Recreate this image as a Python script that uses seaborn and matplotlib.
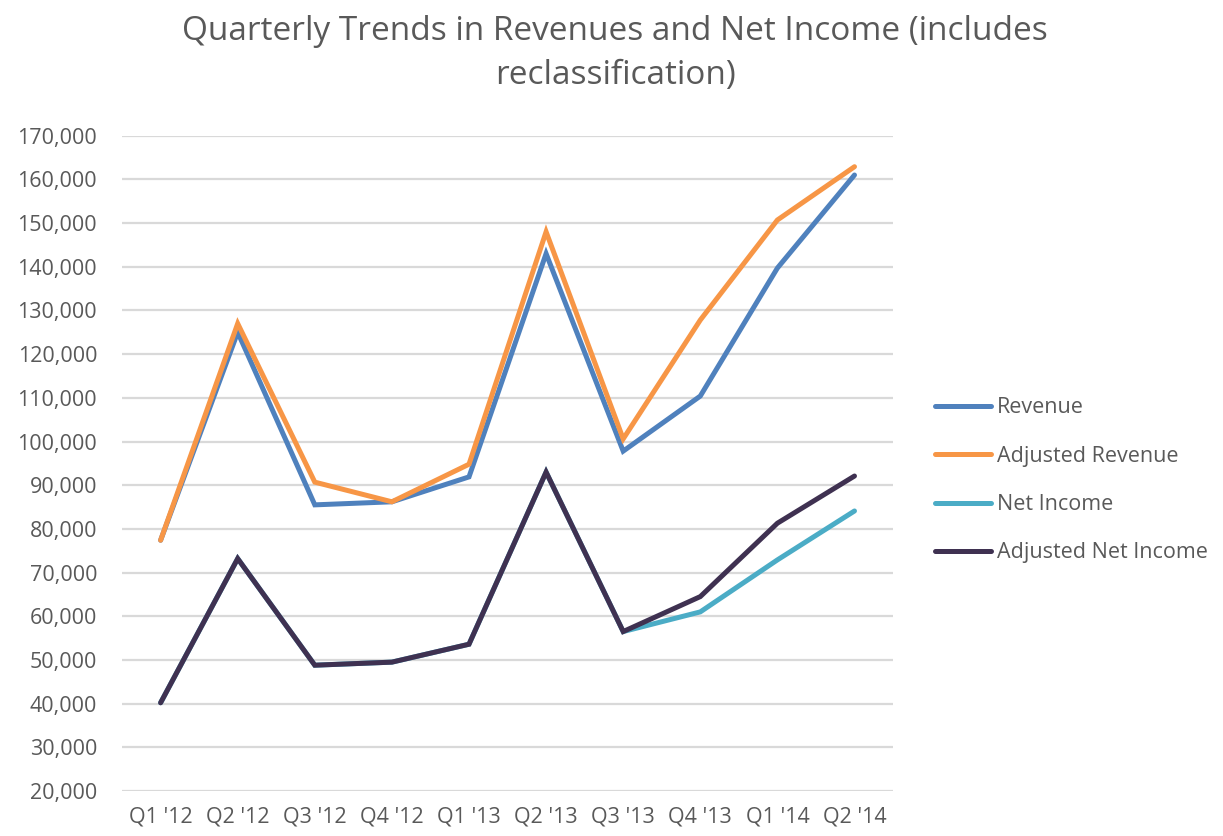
import matplotlib
matplotlib.use("Agg")
import matplotlib.pyplot as plt
import pandas as pd
import seaborn as sns
from matplotlib.ticker import FuncFormatter

quarters = ["Q1 '12", "Q2 '12", "Q3 '12", "Q4 '12", "Q1 '13",
            "Q2 '13", "Q3 '13", "Q4 '13", "Q1 '14", "Q2 '14"]
revenue = [77400, 125000, 85500, 86200, 91900, 143000, 97800, 110400, 139700, 161000]
adj_revenue = [77400, 127000, 90700, 86200, 94800, 148000, 100600, 127800, 150700, 162900]
net_income = [40200, 73200, 48800, 49500, 53600, 93000, 56500, 61000, 72900, 84100]
adj_net_income = [40200, 73200, 48800, 49500, 53600, 93000, 56500, 64500, 81300, 92100]

series = ["Revenue", "Adjusted Revenue", "Net Income", "Adjusted Net Income"]
colors = ["#4f81bd", "#f79646", "#4bacc6", "#3f3151"]

# long format for seaborn
rows = []
for name, vals in zip(series, [revenue, adj_revenue, net_income, adj_net_income]):
    for i, v in enumerate(vals):
        rows.append({"quarter": i, "value": v, "series": name})
df = pd.DataFrame(rows)

sns.set_theme(style="white")
plt.rcParams["font.family"] = ["Open Sans", "DejaVu Sans"]

fig = plt.figure(figsize=(12.23, 8.36), dpi=100)
ax = fig.add_axes([0.0998, 0.0538, 0.6304, 0.7839])

sns.lineplot(data=df, x="quarter", y="value", hue="series", hue_order=series,
             palette=colors, linewidth=3.6, ax=ax, legend=True,
             sort=False)
for ln in ax.lines:
    ln.set_solid_capstyle("round")
    ln.set_solid_joinstyle("miter")

ax.set_xlim(-0.5, 9.5)
ax.set_ylim(20000, 170000)
ax.set_yticks(range(20000, 170001, 10000))
ax.yaxis.set_major_formatter(FuncFormatter(lambda v, p: f"{int(v):,}"))
ax.set_xticks(range(len(quarters)))
ax.set_xticklabels(quarters)
ax.set_xlabel("")
ax.set_ylabel("")
ax.tick_params(axis="both", length=0, labelsize=15.5, colors="#595959")
ax.tick_params(axis="y", pad=18)
ax.tick_params(axis="x", pad=11)
ax.grid(axis="y", color="#d9d9d9", linewidth=1.6)
ax.set_axisbelow(True)
for s in ax.spines.values():
    s.set_visible(False)

fig.suptitle("Quarterly Trends in Revenues and Net Income (includes\nreclassification)",
             x=0.503, y=0.982, fontsize=24, color="#595959", linespacing=1.45)

leg = ax.legend(loc="center left", bbox_to_anchor=(1.054, 0.474), frameon=False,
                fontsize=15.5, handlelength=2.6, handletextpad=0.3,
                labelspacing=1.27, labelcolor="#595959",
                borderpad=0, borderaxespad=0)
for h in leg.get_lines():
    h.set_linewidth(3.6)
    h.set_solid_capstyle("round")

fig.savefig("out.png", dpi=100, facecolor="white")
